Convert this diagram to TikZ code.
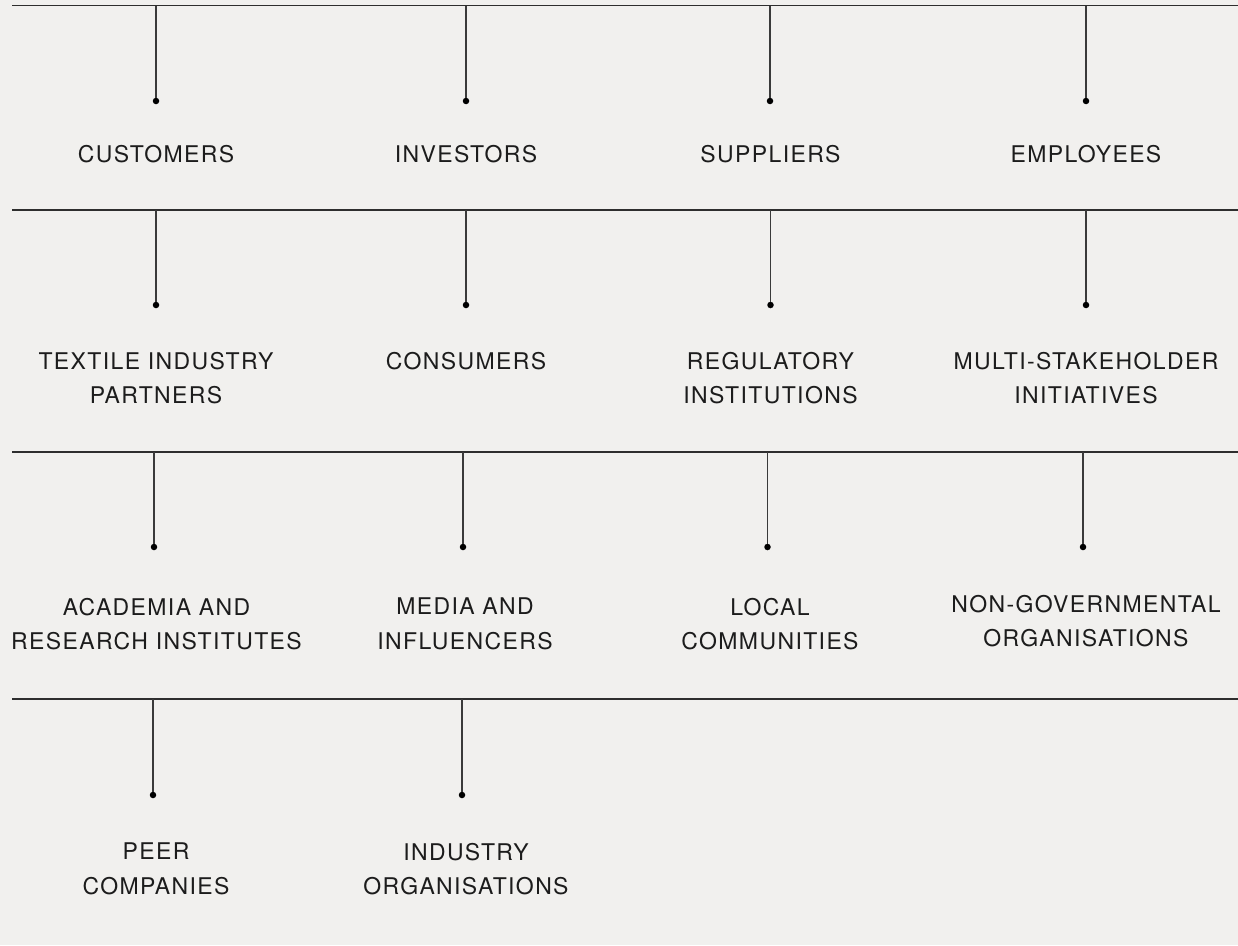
\documentclass[tikz,border=0pt]{standalone}
\usepackage{fontspec}
\newfontfamily\labelfont{TeX Gyre Heros}[LetterSpace=6]
\definecolor{paper}{HTML}{F1F0EE}
\definecolor{ink}{HTML}{1C1C1C}
\definecolor{rulecol}{HTML}{2E2E2E}
\definecolor{stemcol}{HTML}{3A3A3A}
\tikzset{
  hrule/.style={draw=rulecol, line width=1.3pt},
  stem/.style={draw=stemcol, line width=1.1pt},
  dot/.style={circle, fill=black, inner sep=0pt, minimum size=6.5pt},
  lbl/.style={anchor=north, inner sep=0pt, align=center, text=ink,
    font=\labelfont\fontsize{23}{34.5}\selectfont}
}
\begin{document}
\begin{tikzpicture}[x=1pt, y=-1pt]
\fill[paper] (0,0) rectangle (1238,945);
\useasboundingbox (0,0) rectangle (1238,945);

% ---- row 1 ----
\coordinate (h1a) at (12,5.5); \coordinate (h1b) at (1238,5.5);
\draw[hrule] (h1a) -- (h1b);
\coordinate (t11) at (156,5.5);  \node[dot] (d11) at (156,101) {};
\coordinate (t12) at (466,5.5);  \node[dot] (d12) at (466,101) {};
\coordinate (t13) at (770,5.5);  \node[dot] (d13) at (770,101) {};
\coordinate (t14) at (1086,5.5); \node[dot] (d14) at (1086,101) {};
\foreach \c in {1,...,4} \draw[stem] (t1\c) -- (d1\c);
\node[lbl] (l11) at (156,145) {CUSTOMERS};
\node[lbl] (l12) at (466,145) {INVESTORS};
\node[lbl] (l13) at (770.5,145) {SUPPLIERS};
\node[lbl] (l14) at (1086,145) {EMPLOYEES};

% ---- row 2 ----
\coordinate (h2a) at (12,210); \coordinate (h2b) at (1238,210);
\draw[hrule] (h2a) -- (h2b);
\coordinate (t21) at (156,210);   \node[dot] (d21) at (156,305) {};
\coordinate (t22) at (466,210);   \node[dot] (d22) at (466,305) {};
\coordinate (t23) at (770.5,210); \node[dot] (d23) at (770.5,305) {};
\coordinate (t24) at (1086,210);  \node[dot] (d24) at (1086,305) {};
\foreach \c in {1,...,4} \draw[stem] (t2\c) -- (d2\c);
\node[lbl] (l21) at (156,352) {TEXTILE INDUSTRY\\PARTNERS};
\node[lbl] (l22) at (466,352) {CONSUMERS};
\node[lbl] (l23) at (770.5,352) {REGULATORY\\INSTITUTIONS};
\node[lbl] (l24) at (1086,352) {MULTI-STAKEHOLDER\\INITIATIVES};

% ---- row 3 ----
\coordinate (h3a) at (12,452); \coordinate (h3b) at (1238,452);
\draw[hrule] (h3a) -- (h3b);
\coordinate (t31) at (154,452);   \node[dot] (d31) at (154,547) {};
\coordinate (t32) at (463,452);   \node[dot] (d32) at (463,547) {};
\coordinate (t33) at (767.5,452); \node[dot] (d33) at (767.5,547) {};
\coordinate (t34) at (1083,452);  \node[dot] (d34) at (1083,547) {};
\foreach \c in {1,...,4} \draw[stem] (t3\c) -- (d3\c);
\node[lbl] (l31) at (156.5,598) {ACADEMIA AND\\RESEARCH INSTITUTES};
\node[lbl] (l32) at (465,598) {MEDIA AND\\INFLUENCERS};
\node[lbl] (l33) at (770,598) {LOCAL\\COMMUNITIES};
\node[lbl] (l34) at (1086,595) {NON-GOVERNMENTAL\\ORGANISATIONS};

% ---- row 4 ----
\coordinate (h4a) at (12,699); \coordinate (h4b) at (1238,699);
\draw[hrule] (h4a) -- (h4b);
\coordinate (t41) at (153,699); \node[dot] (d41) at (153,795) {};
\coordinate (t42) at (462,699); \node[dot] (d42) at (462,795) {};
\foreach \c in {1,2} \draw[stem] (t4\c) -- (d4\c);
\node[lbl] (l41) at (156,843) {PEER\\COMPANIES};
\node[lbl] (l42) at (466,843) {INDUSTRY\\ORGANISATIONS};
\end{tikzpicture}
\end{document}
